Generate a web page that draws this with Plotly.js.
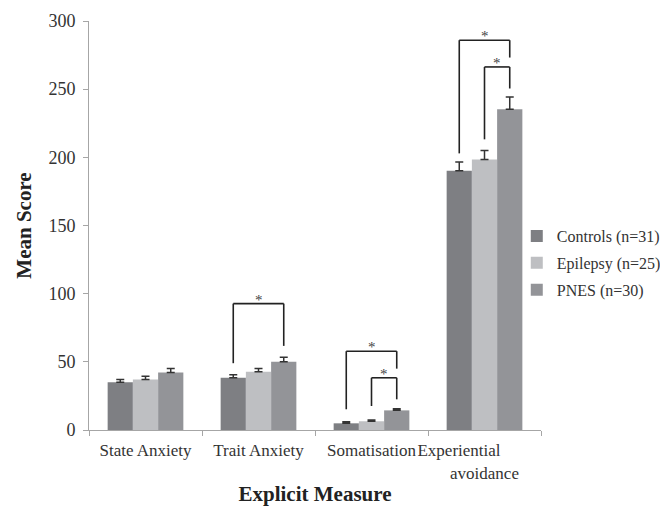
<!DOCTYPE html>
<html>
<head>
<meta charset="utf-8">
<script src="https://cdn.plot.ly/plotly-3.0.1.min.js"></script>
<style>html,body{margin:0;padding:0;background:#fff;}#chart{width:660px;height:510px;}</style>
</head>
<body>
<div id="chart"></div>
<script>
// ---- data ----
const categories = ["State Anxiety", "Trait Anxiety", "Somatisation", "Experiential avoidance"];
const tickLabels = ["State Anxiety", "Trait Anxiety", "Somatisation", "Experiential\u00a0\u00a0\u00a0\u00a0\u00a0\u00a0\u00a0\u00a0\u00a0\u00a0\u00a0\u00a0<br>avoidance"];
const seriesNames = ["Controls (n=31)", "Epilepsy (n=25)", "PNES (n=30)"];
const controls = [35.0, 38.4, 4.9, 190.2];
const epilepsy = [37.0, 42.8, 6.4, 198.5];
const pnes = [42.1, 50.1, 14.4, 235.3];
const controlsErr = [2.0, 2.2, 1.2, 6.4];
const epilepsyErr = [2.4, 2.4, 1.0, 6.5];
const pnesErr = [3.1, 3.2, 1.2, 9.0];
// significance brackets: category index, from series, to series, top, left end, right end
const bracketCat = [1, 2, 2, 3, 3];
const bracketFrom = [0, 0, 1, 0, 1];
const bracketTo = [2, 2, 2, 2, 2];
const bracketTop = [92.7, 57.8, 38.3, 285.9, 266.3];
const bracketLeftEnd = [49.0, 15.2, 17.6, 202.9, 213.2];
const bracketRightEnd = [61.7, 45.0, 22.5, 273.2, 250.5];

// ---- styling ----
const colors = ["#7e7f83", "#bebfc2", "#939498"];
const serif = "Liberation Serif";
const bargap = 0.33;
const values = [controls, epilepsy, pnes];
const errs = [controlsErr, epilepsyErr, pnesErr];

const traces = values.map((v, i) => ({
  type: "bar",
  name: seriesNames[i],
  x: categories,
  y: v,
  legendgroup: "g" + i,
  marker: {color: colors[i], line: {width: 0}},
  error_y: {type: "data", symmetric: false, array: errs[i], arrayminus: v.map(() => 0),
            color: "#333333", thickness: 1.5, width: 4},
  hoverinfo: "skip"
}));

const barW = (1 - bargap) / 3;
const offs = [-barW, 0, barW];
const shapes = [];
const annotations = [];
const lineStyle = {color: "#222222", width: 1.6};
for (let k = 0; k < bracketCat.length; k++) {
  const xl = bracketCat[k] + offs[bracketFrom[k]];
  const xr = bracketCat[k] + offs[bracketTo[k]];
  const t = bracketTop[k];
  shapes.push({type: "line", xref: "x", yref: "y", x0: xl, x1: xl, y0: bracketLeftEnd[k], y1: t, line: lineStyle});
  shapes.push({type: "line", xref: "x", yref: "y", x0: xl, x1: xr, y0: t, y1: t, line: lineStyle});
  shapes.push({type: "line", xref: "x", yref: "y", x0: xr, x1: xr, y0: t, y1: bracketRightEnd[k], line: lineStyle});
  annotations.push({xref: "x", yref: "y", x: (xl + xr) / 2, y: t, text: "*", showarrow: false,
    yanchor: "bottom", yshift: -6, font: {family: serif, size: 15, color: "#444444"}});
}

const layout = {
  width: 660, height: 510,
  margin: {l: 89, r: 119, t: 21, b: 79.5, pad: 0, autoexpand: false},
  paper_bgcolor: "#ffffff", plot_bgcolor: "#ffffff",
  barmode: "group", bargap: bargap, bargroupgap: 0,
  showlegend: true,
  legend: {xref: "container", yref: "container", x: 0.783, xanchor: "left", y: 0.484, yanchor: "middle", tracegroupgap: 3,
           font: {family: serif, size: 16, color: "#333333"}, bgcolor: "rgba(0,0,0,0)"},
  xaxis: {
    type: "category", tickmode: "array", tickvals: categories, ticktext: tickLabels, tickangle: 0,
    tickson: "boundaries", ticks: "outside", ticklen: 5, tickcolor: "#a6a6a6", automargin: false,
    ticklabelstandoff: 5,
    showline: true, linecolor: "#a6a6a6", linewidth: 1, showgrid: false, zeroline: false,
    tickfont: {family: serif, size: 17, color: "#333333"},
    title: {text: "<b>Explicit Measure</b>", font: {family: serif, size: 21, color: "#222222"}, standoff: 4}
  },
  yaxis: {
    range: [0, 300], dtick: 50, tick0: 0, ticks: "outside", ticklen: 5, tickcolor: "#a6a6a6", automargin: false,
    ticklabelstandoff: 4,
    showline: true, linecolor: "#a6a6a6", linewidth: 1, showgrid: false, zeroline: false,
    tickfont: {family: serif, size: 18, color: "#333333"},
    title: {text: "<b>Mean Score</b>", font: {family: serif, size: 21, color: "#222222"}, standoff: 11}
  },
  shapes: shapes,
  annotations: annotations,
  font: {family: serif}
};

Plotly.newPlot("chart", traces, layout, {displayModeBar: false, staticPlot: true});
</script>
</body>
</html>
